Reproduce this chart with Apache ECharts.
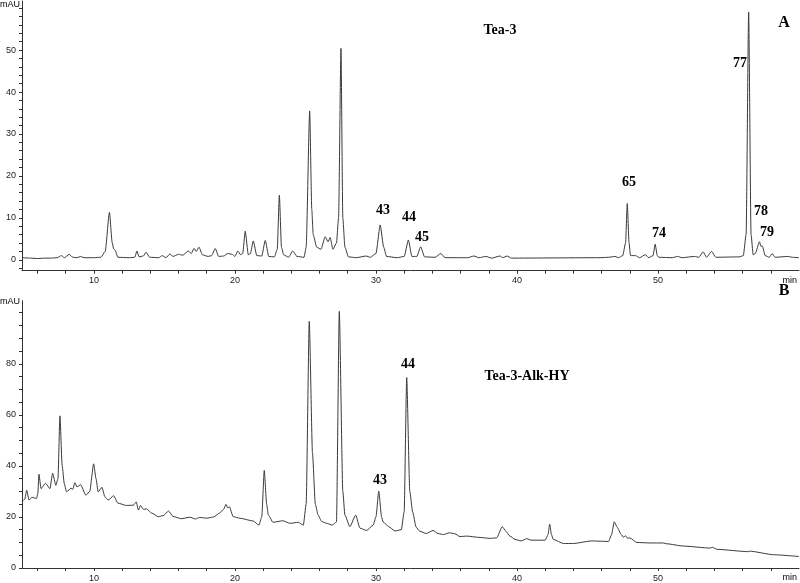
<!DOCTYPE html>
<html>
<head>
<meta charset="utf-8">
<script src="https://cdn.jsdelivr.net/npm/echarts@6/dist/echarts.min.js"></script>
<style>
html,body{margin:0;padding:0;background:#fff;}
#chart{width:800px;height:583px;}
</style>
</head>
<body>
<div id="chart"></div>
<script>
// ---- Panel A: Tea-3 (time in min, signal in mAU) ----
var topTime = [4.9,5.5,6.0,6.5,7.0,7.4,7.7,7.9,8.25,8.5,8.8,9.05,9.3,10.0,10.5,10.8,11.1,11.3,11.4,11.5,11.7,12.5,12.9,13.05,13.2,13.5,13.7,13.95,14.6,14.85,15.1,15.4,15.6,16.0,16.3,16.7,16.9,17.1,17.25,17.45,17.7,18.1,18.35,18.6,18.85,19.2,19.5,19.8,20.0,20.2,20.4,20.55,20.73,20.95,21.1,21.3,21.55,21.9,22.15,22.4,22.8,23.0,23.15,23.3,23.45,23.8,24.1,24.4,24.9,25.05,25.3,25.45,25.55,25.8,26.1,26.4,26.6,26.75,26.95,27.2,27.35,27.52,27.65,27.8,28.05,28.6,29.3,29.6,30.0,30.3,30.55,30.75,31.5,32.0,32.3,32.55,32.9,33.17,33.45,34.2,34.6,34.9,36.5,36.95,37.3,37.8,38.2,38.8,39.0,39.3,39.6,45.9,46.5,46.95,47.2,47.5,47.7,47.82,47.95,48.05,48.4,48.7,49.1,49.35,49.65,49.8,49.95,50.05,51.0,51.4,51.7,52.6,52.9,53.2,53.45,53.8,54.1,55.8,56.05,56.25,56.43,56.6,56.75,56.9,57.2,57.3,57.4,57.6,57.9,58.1,58.3,59.25,59.5,60.0];
var topSignal = [0.5,0.4,0.3,0.4,0.4,0.5,1.0,0.5,1.3,0.6,0.5,0.8,0.5,0.5,0.6,2.0,11.3,4.0,2.6,2.3,0.6,0.5,0.6,2.1,0.7,0.9,1.8,0.6,0.5,1.0,0.5,1.4,0.8,1.3,1.1,2.1,1.5,2.7,2.0,3.0,1.2,0.8,1.0,2.7,0.8,0.9,1.5,1.3,0.8,2.1,1.2,1.5,6.8,1.2,1.5,4.5,1.0,0.9,4.6,0.8,0.7,2.5,15.4,3.0,1.2,0.6,2.1,0.8,0.6,3.0,35.5,12.0,6.0,3.0,2.5,5.5,4.3,5.3,2.5,4.0,10.0,50.4,10.0,3.0,0.7,0.5,0.9,0.6,1.5,8.3,3.0,0.8,0.5,0.8,4.7,0.8,0.8,3.1,0.7,0.6,1.5,0.5,0.5,0.9,0.5,0.8,0.4,0.9,0.5,0.9,0.4,0.5,0.6,0.8,0.5,1.0,4.0,13.4,4.0,1.0,1.0,0.5,1.2,0.5,1.0,3.7,1.0,0.6,0.5,0.8,0.5,0.8,0.6,1.9,0.6,2.0,0.6,0.7,1.0,6.0,59.1,6.0,1.2,1.5,4.3,3.2,3.3,1.0,0.6,1.5,0.6,0.8,0.6,0.5];

// ---- Panel B: Tea-3-Alk-HY ----
var bottomTime = [4.9,5.1,5.23,5.4,5.6,5.93,6.02,6.1,6.25,6.57,6.88,7.07,7.3,7.45,7.59,7.75,7.9,8.06,8.37,8.5,8.65,8.8,9.06,9.43,9.7,9.98,10.15,10.3,10.57,10.78,11.0,11.4,11.7,12.3,12.8,13.0,13.15,13.3,13.5,13.74,14.1,14.56,14.9,15.3,15.6,16.2,16.8,17.2,17.5,18.0,18.5,18.9,19.2,19.36,19.5,19.6,19.88,20.35,21.3,21.7,21.9,22.08,22.25,22.37,22.7,23.4,23.9,24.5,24.85,25.05,25.27,25.5,25.7,25.9,26.15,26.5,26.9,27.2,27.4,27.65,27.8,28.15,28.56,28.87,29.34,29.8,30.0,30.2,30.4,30.5,30.9,31.35,31.8,32.0,32.18,32.4,32.6,32.85,33.1,33.57,34.05,34.4,34.8,35.2,35.6,35.96,36.43,37.3,38.1,38.56,38.96,39.2,39.5,39.86,40.3,40.7,41.0,42.0,42.2,42.32,42.45,42.57,43.3,44.0,45.3,46.5,46.7,46.9,47.1,47.4,47.55,47.7,47.85,48.0,48.5,49.5,50.4,50.6,51.8,53.7,53.85,54.2,56.4,56.5,58.2,60.0];
var bottomSignal = [25.9,27.0,30.5,26.6,27.7,27.2,29.0,36.7,31.1,33.2,31.1,37.1,32.4,35.0,59.6,40.0,33.0,29.8,31.3,30.8,33.4,31.8,32.6,28.5,30.0,40.8,35.0,29.8,31.6,27.9,26.6,28.3,25.4,24.5,24.6,25.9,22.7,24.5,23.0,23.1,21.5,20.1,20.5,22.3,20.2,19.3,19.9,19.2,19.8,19.5,20.0,21.5,23.0,24.9,23.5,24.0,20.1,19.5,18.4,16.8,20.0,38.2,25.0,20.7,17.9,18.5,17.5,17.9,16.8,25.0,96.6,45.0,25.0,20.7,18.2,17.5,16.8,18.0,100.5,30.0,20.7,16.2,20.7,15.6,14.7,16.8,20.0,30.1,20.0,18.1,16.2,14.5,15.0,22.0,74.6,30.0,22.0,16.0,14.4,13.5,14.7,13.5,13.1,13.8,13.4,12.3,12.5,12.0,11.6,11.8,16.2,14.5,12.5,11.2,10.6,11.5,10.9,10.9,13.0,17.2,13.0,11.2,9.6,9.6,10.6,10.4,13.0,18.1,16.0,13.1,12.0,12.6,11.6,11.8,10.0,9.8,9.8,9.5,8.6,7.8,8.1,7.3,6.4,6.6,5.2,4.5];

// ---- tick labels ----
var xTickLabels = [10, 20, 30, 40, 50];
var xMinorTicks = [6,8,10,12,14,16,18,20,22,24,26,28,30,32,34,36,38,40,42,44,46,48,50,52,54,56,58];
var topYLabels = [0, 10, 20, 30, 40, 50];
var topYTicks = [-2,0,2,4,6,8,10,12,14,16,18,20,22,24,26,28,30,32,34,36,38,40,42,44,46,48,50,52,54,56,58,60];
var bottomYLabels = [0, 20, 40, 60, 80];
var bottomYTicks = [0,5,10,15,20,25,30,35,40,45,50,55,60,65,70,75,80,85,90,95,100];

// ---- annotation texts ----
var topTitle = 'Tea-3', topTag = 'A';
var bottomTitle = 'Tea-3-Alk-HY', bottomTag = 'B';
var topPeakLabels = ['77','43','44','45','65','74','78','79'];
var bottomPeakLabels = ['43','44'];

function pairs(t, v) { return t.map(function (x, i) { return [x, v[i]]; }); }

var axisColor = '#333';
var tickFont = { fontFamily: 'Liberation Sans, Arial', fontSize: 9, color: '#222' };

function xAxisDef(gi, margin) {
  return {
    type: 'value', gridIndex: gi, min: 4.9, max: 60,
    axisLine: { onZero: false, lineStyle: { color: axisColor, width: 1 } },
    axisTick: { show: true, length: 3, customValues: xMinorTicks, lineStyle: { color: axisColor } },
    axisLabel: Object.assign({ customValues: xTickLabels, margin: margin }, tickFont),
    splitLine: { show: false }
  };
}
function yAxisDef(gi, min, max, labels, ticks) {
  return {
    type: 'value', gridIndex: gi, min: min, max: max,
    axisLine: { show: true, onZero: false, lineStyle: { color: axisColor, width: 1 } },
    axisTick: { show: true, length: 3, customValues: ticks, lineStyle: { color: axisColor } },
    axisLabel: Object.assign({ customValues: labels, margin: 6 }, tickFont),
    splitLine: { show: false }
  };
}

var serif = 'bold 14px "Liberation Serif", "Times New Roman", serif';
function txt(s, x, y, font, align) {
  var a = align || 'center';
  return { type: 'text', x: x, y: y, silent: true,
    style: { text: s, font: font || serif, fill: '#000', textAlign: a, textVerticalAlign: 'middle', align: a, verticalAlign: 'middle' } };
}
var small = '9px "Liberation Sans", Arial, sans-serif';
var topPeakPos = [[740,63],[383,210],[409,217],[422,237],[629,182],[659,233],[761,211],[767,232]];
var bottomPeakPos = [[380,480],[408,364]];
var graphics = [
  txt('mAU', 0, 5, small, 'left'), txt('mAU', 0, 302, small, 'left'),
  txt('min', 797, 281, small, 'right'), txt('min', 797, 578, small, 'right'),
  txt(topTitle, 500, 30), txt(topTag, 784, 23, 'bold 16px "Liberation Serif", serif'),
  txt(bottomTitle, 527, 376), txt(bottomTag, 784, 291, 'bold 16px "Liberation Serif", serif')
];
topPeakLabels.forEach(function (s, i) { graphics.push(txt(s, topPeakPos[i][0], topPeakPos[i][1])); });
bottomPeakLabels.forEach(function (s, i) { graphics.push(txt(s, bottomPeakPos[i][0], bottomPeakPos[i][1])); });

var chart = echarts.init(document.getElementById('chart'), null, { renderer: 'canvas' });
chart.setOption({
  animation: false,
  backgroundColor: '#fff',
  grid: [
    { left: 22, width: 777, top: 1, height: 269.7 },
    { left: 22, width: 777, top: 300.7, height: 269.3 }
  ],
  xAxis: [xAxisDef(0, 5), xAxisDef(1, 6)],
  yAxis: [yAxisDef(0, -2.6, 61.7, topYLabels, topYTicks), yAxisDef(1, 0, 104.7, bottomYLabels, bottomYTicks)],
  series: [
    { type: 'line', xAxisIndex: 0, yAxisIndex: 0, data: pairs(topTime, topSignal), showSymbol: false,
      smooth: 0.2, smoothMonotone: 'x', lineStyle: { color: '#3a3a3a', width: 1 } },
    { type: 'line', xAxisIndex: 1, yAxisIndex: 1, data: pairs(bottomTime, bottomSignal), showSymbol: false,
      smooth: 0.2, smoothMonotone: 'x', lineStyle: { color: '#3a3a3a', width: 1 } }
  ],
  graphic: graphics
});
</script>
</body>
</html>
